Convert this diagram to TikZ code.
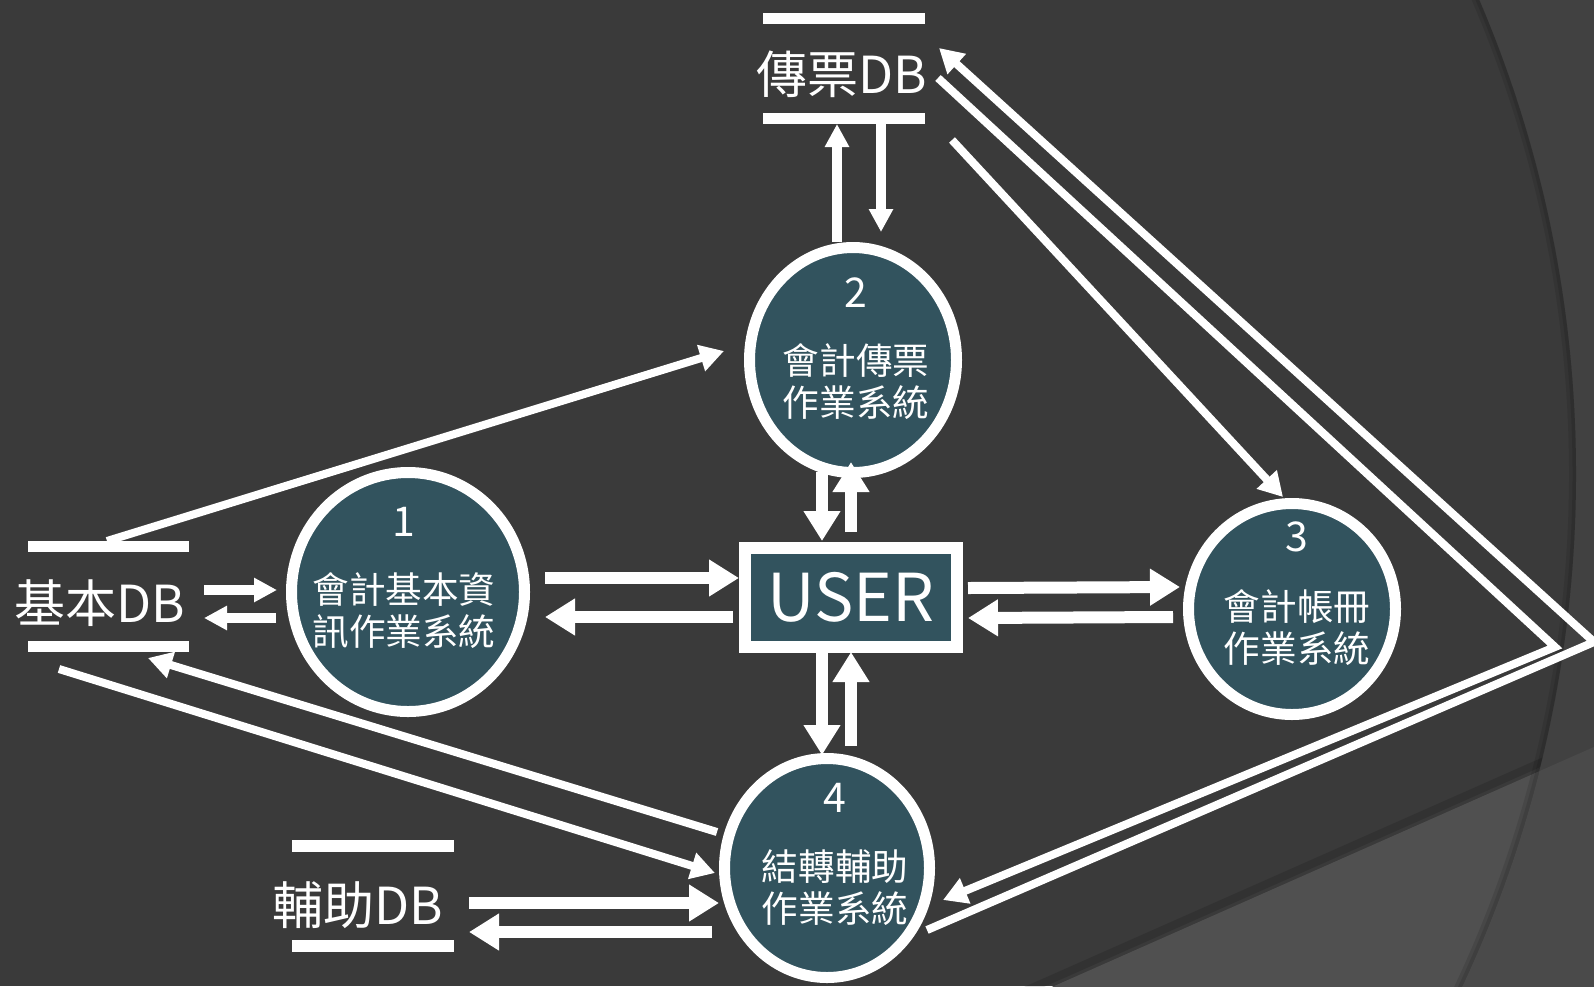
\documentclass[tikz,border=0pt]{standalone}
\usepackage{fontspec}
\setmainfont{Noto Sans CJK TC}
\usetikzlibrary{arrows.meta,shapes.geometric}

\definecolor{bgdark}{RGB}{58,58,58}
\definecolor{bgside}{RGB}{65,65,65}
\definecolor{bandin}{RGB}{80,80,80}
\definecolor{bandout}{RGB}{74,74,74}
\definecolor{procfill}{RGB}{50,83,94}

\begin{document}
\begin{tikzpicture}[x=0.5pt,y=-0.5pt,
    proc/.style={ellipse,draw=white,line width=5.5pt,fill=procfill,inner sep=0pt},
    userbox/.style={rectangle,draw=white,line width=6pt,fill=procfill,inner sep=0pt,
        minimum width=106pt,minimum height=49.5pt,text=white,
        font=\fontsize{33pt}{36pt}\selectfont},
    dblabel/.style={text=white,inner sep=0pt,font=\fontsize{25.5pt}{28pt}\selectfont},
    numlabel/.style={text=white,inner sep=0pt,font=\fontsize{20.5pt}{23pt}\selectfont},
    desclabel/.style={text=white,inner sep=0pt,align=center,
        font=\fontsize{18.3pt}{21pt}\selectfont},
    dbline/.style={white,line width=5.75pt},
    flow/.style={white,line width=6pt,-{Triangle[length=15pt,width=17.5pt]}},
    flowsmall/.style={white,line width=5pt,-{Triangle[length=11.5pt,width=11.5pt]}},
    flowthin/.style={white,line width=4pt,-{Triangle[length=12pt,width=13pt]}}]

    \useasboundingbox (0,0) rectangle (1594,986);

    % background with the big arc and the lower band
    \fill[bgside] (0,0) rectangle (1594,986);
    \fill[bandout] (1000,1010) -- (1700,700) -- (1700,1010) -- cycle;
    \begin{scope}
        \clip (0,0) rectangle (1594,986);
        \clip (370,474) circle[radius=1206];
        \fill[bgdark] (0,0) rectangle (1594,986);
        \draw[black,opacity=.12,line width=4pt] (1000,1002) -- (1700,692);
        \fill[bandin] (1000,1010) -- (1700,700) -- (1700,1010) -- cycle;
        \draw[black,opacity=.10,line width=7pt] (370,474) circle[radius=1206];
        \draw[black,opacity=.10,line width=3.5pt] (370,474) circle[radius=1206];
    \end{scope}

    % data stores
    \node[dblabel] (db1) at (100,603) {基本DB};
    \node[dblabel] (db2) at (842,74) {傳票DB};
    \node[dblabel] (db3) at (358,905) {輔助DB};
    \draw[dbline] (28,546.5) -- (189,546.5);
    \draw[dbline] (28,646.5) -- (189,646.5);
    \draw[dbline] (763,18.5) -- (925,18.5);
    \draw[dbline] (763,118.3) -- (925,118.3);
    \draw[dbline] (292,846) -- (454,846);
    \draw[dbline] (292,946) -- (454,946);

    % processes
    \node[proc,minimum width=116.5pt,minimum height=119.5pt] (p1) at (408,592) {};
    \node[proc,minimum width=103.5pt,minimum height=112.5pt] (p2) at (853,360) {};
    \node[proc,minimum width=103.5pt,minimum height=105.5pt] (p3) at (1292,609) {};
    \node[proc,minimum width=102.5pt,minimum height=109.5pt] (p4) at (827,868) {};
    \node[userbox] (user) at (851,597) {USER};

    \node[numlabel] (n1) at (404,522) {1};
    \node[desclabel] (t1) at (404,611) {會計基本資\\訊作業系統};
    \node[numlabel] (n2) at (856,293) {2};
    \node[desclabel] (t2) at (856,382) {會計傳票\\作業系統};
    \node[numlabel] (n3) at (1297,537) {3};
    \node[desclabel] (t3) at (1297,628) {會計帳冊\\作業系統};
    \node[numlabel] (n4) at (835,798) {4};
    \node[desclabel] (t4) at (835,888) {結轉輔助\\作業系統};

    \coordinate (bendin) at (1555,647);
    \coordinate (bendout) at (1594,642);

    % flows
    \draw[flowsmall] ([shift={(104,-13)}]db1.center) -- ([shift={(-131,-2)}]p1.center);
    \draw[flowsmall] ([shift={(-132,26)}]p1.center) -- ([shift={(104,15)}]db1.center);
    \draw[flowthin] ([shift={(7,-62)}]db1.center) -- ([shift={(-129,-9)}]p2.center);
    \draw[flowthin] ([shift={(-110,-36)}]p4.center) -- ([shift={(48,55)}]db1.center);
    \draw[flowthin] ([shift={(-41,66)}]db1.center) -- ([shift={(-112,5)}]p4.center);

    \draw[flow] ([shift={(137,-14)}]p1.center) -- ([shift={(-112,-19)}]user.center);
    \draw[flow] ([shift={(-118,20)}]user.center) -- ([shift={(137,25)}]p1.center);
    \draw[flow] ([shift={(117,-9)}]user.center) -- ([shift={(-112,-22)}]p3.center);
    \draw[flow] ([shift={(-119,8)}]p3.center) -- ([shift={(117,21)}]user.center);
    \draw[flow] ([shift={(-31,112)}]p2.center) -- ([shift={(-29,-56)}]user.center);
    \draw[flow] ([shift={(0,-65)}]user.center) -- ([shift={(-2,102)}]p2.center);
    \draw[flow] ([shift={(-29,55)}]user.center) -- ([shift={(-5,-113)}]p4.center);
    \draw[flow] ([shift={(24,-122)}]p4.center) -- ([shift={(0,55)}]user.center);

    \draw[flowsmall] ([shift={(-16,-118)}]p2.center) -- ([shift={(-5,50)}]db2.center);
    \draw[flowsmall] ([shift={(39,50)}]db2.center) -- ([shift={(28,-128)}]p2.center);
    \draw[flowthin] ([shift={(110,66)}]db2.center) -- ([shift={(-9,-112)}]p3.center);
    \draw[flowthin] ([shift={(96,4)}]db2.center) -- (bendin) -- ([shift={(116,32)}]p4.center);
    \draw[flowthin] ([shift={(100,62)}]p4.center) -- (bendout) -- ([shift={(97,-26)}]db2.center);

    \draw[flow] ([shift={(111,-2)}]db3.center) -- ([shift={(-108,35)}]p4.center);
    \draw[flow] ([shift={(-115,64)}]p4.center) -- ([shift={(111,27)}]db3.center);
\end{tikzpicture}
\end{document}
